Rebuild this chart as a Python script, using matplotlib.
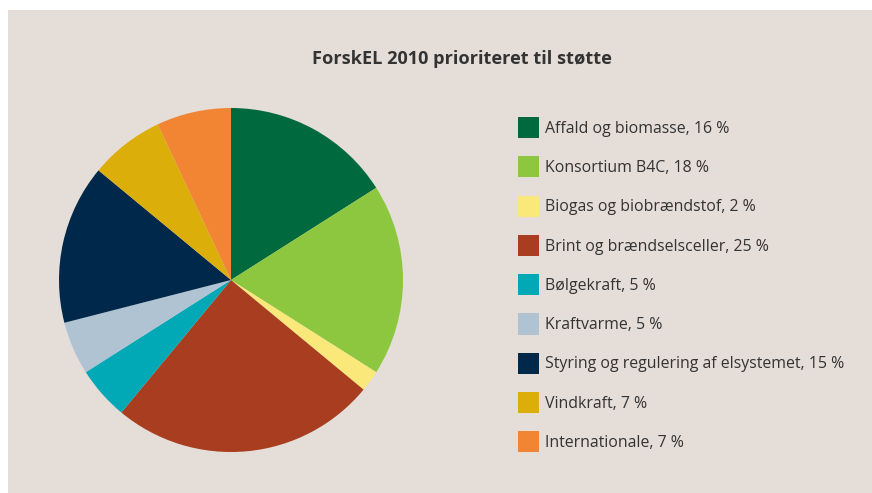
import matplotlib
matplotlib.use("Agg")
import matplotlib.pyplot as plt
from matplotlib.patches import Rectangle

# ======================= Data =========================================================================================
categories = ["Affald og biomasse", "Konsortium B4C", "Biogas og biobrændstof",
              "Brint og brændselsceller", "Bølgekraft", "Kraftvarme",
              "Styring og regulering af elsystemet", "Vindkraft", "Internationale"]
shares = [16, 18, 2, 25, 5, 5, 15, 7, 7]
colors = ["#006a3e", "#8dc63f", "#fbe87a", "#a83d1f", "#00a9b5",
          "#afc3d3", "#00284b", "#dcae0a", "#f28533"]
title = "ForskEL 2010 prioriteret til støtte"

plt.rcParams['font.family'] = ['Open Sans', 'DejaVu Sans']
text_col = "#333333"
bg_col = "#e4ddd8"

W, H = 872, 493
fig = plt.figure(figsize=(W / 100, H / 100), dpi=100)
fig.patch.set_facecolor("white")

# panel background
fig.add_artist(Rectangle((8 / W, 0), 1 - 8 / W, 1 - 10 / H, transform=fig.transFigure,
                         facecolor=bg_col, edgecolor="none", zorder=0))

# pie axes: centre (231, 280), radius 172 px
ax = fig.add_axes([59 / W, (H - 452) / H, 344 / W, 344 / H])
ax.set_facecolor("none")
wedges, _ = ax.pie(shares, colors=colors, startangle=90, counterclock=False,
                   radius=1, wedgeprops=dict(linewidth=0))
ax.set_xlim(-1, 1)
ax.set_ylim(-1, 1)
ax.set_aspect("equal")
ax.axis("off")

fig.text(462 / W, 1 - 59 / H, title, ha="center", va="center",
         fontsize=13.1, fontweight="bold", color=text_col)

labels = [f"{c}, {v} %" for c, v in zip(categories, shares)]
leg = fig.legend(wedges, labels, loc="upper left", bbox_to_anchor=(518 / W, 1 - 117 / H),
                 frameon=False, fontsize=11.45, handlelength=1.32, handleheight=1.67,
                 handletextpad=0.4, labelspacing=1.14, borderpad=0, borderaxespad=0)
for t in leg.get_texts():
    t.set_color(text_col)

plt.savefig("out.png", dpi=100, facecolor=fig.get_facecolor())
